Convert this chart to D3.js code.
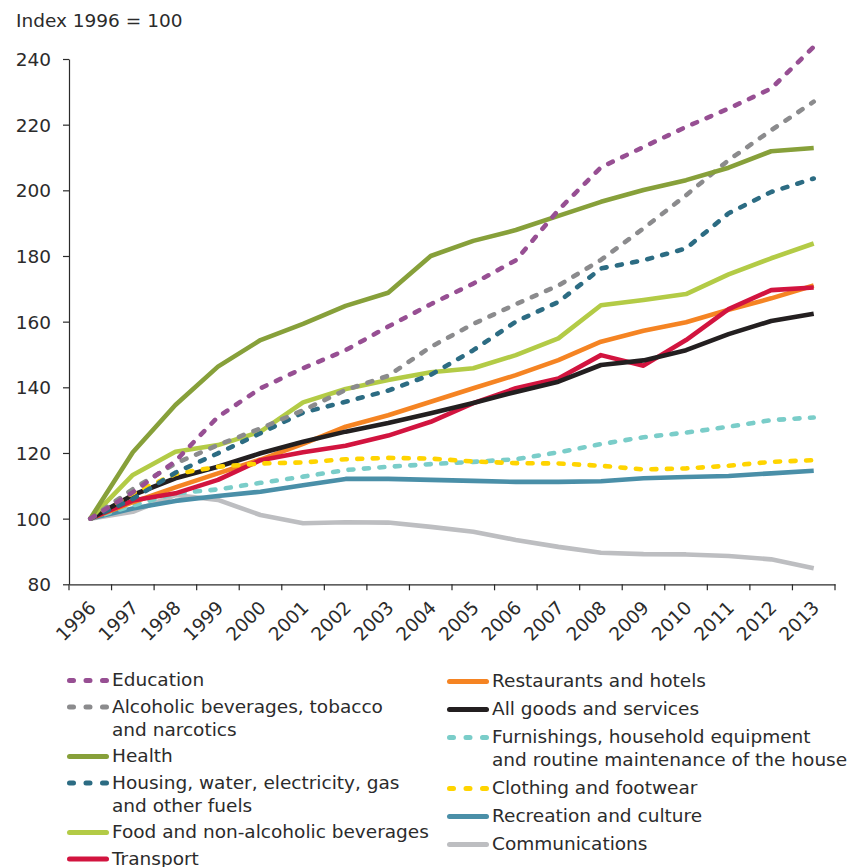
<!DOCTYPE html>
<html lang="en">
<head>
<meta charset="utf-8">
<title>Index 1996 = 100</title>
<script src="https://d3js.org/d3.v7.min.js"></script>
<style>
    body { margin: 0; background: #fff; }
    svg text { font-family: "DejaVu Sans", Verdana, sans-serif; fill: #2b2b2b; }
</style>
</head>
<body>
<div id="chart"></div>
<script>
// years on the x axis
var years = ["1996", "1997", "1998", "1999", "2000", "2001", "2002", "2003", "2004",
    "2005", "2006", "2007", "2008", "2009", "2010", "2011", "2012", "2013"];
var yTicks = [80, 100, 120, 140, 160, 180, 200, 220, 240];

// index values
var education      = [100, 108, 117.5, 131, 139.7, 145.8, 151.3, 158.5, 165.3, 171.6, 178.7, 194, 207, 213.2, 219.3, 224.9, 231, 243.7];
var alcohol        = [100, 109, 116.8, 122.4, 127.5, 133, 139.2, 143.5, 152.3, 159.3, 165.3, 171, 178.8, 188.4, 198.5, 209.2, 218.3, 227];
var health         = [100, 120.2, 134.6, 146.3, 154.4, 159.3, 164.8, 168.8, 180, 184.6, 187.9, 192.2, 196.5, 200.1, 203.1, 206.9, 211.9, 212.9];
var housing        = [100, 106, 114, 119.9, 126, 132.3, 135.6, 139, 143.8, 151.3, 160, 166, 176.2, 178.7, 182.3, 193, 199.5, 203.6];
var food           = [100, 113.3, 120.4, 122.4, 126.5, 135.4, 139.5, 142.2, 144.6, 145.8, 149.8, 154.9, 165, 166.6, 168.4, 174.4, 179.3, 183.8];
var transport      = [100, 105.5, 107.7, 111.8, 117.8, 120.2, 122.2, 125.3, 129.5, 135.2, 139.7, 142.7, 149.8, 146.6, 154.4, 163.8, 169.6, 170.4];
var restaurants    = [100, 105, 109.5, 113.8, 118, 122.8, 128, 131.5, 135.6, 139.7, 143.7, 148.3, 153.9, 157.2, 159.8, 163.6, 167.1, 171];
var allGoods       = [100, 107.2, 112.3, 115.8, 119.9, 123.4, 126.5, 129.1, 132.1, 135.2, 138.6, 141.7, 146.8, 148.2, 151.3, 156.2, 160.2, 162.4];
var furnishings    = [100, 104, 107.7, 108.9, 110.9, 112.8, 114.8, 115.8, 116.6, 117.3, 118.1, 120.2, 122.7, 124.8, 126.2, 128, 130, 130.8];
var clothing       = [100, 107.7, 113.6, 115.8, 116.8, 117.1, 118.1, 118.5, 118.3, 117.4, 116.9, 116.8, 116.1, 115, 115.3, 116.1, 117.3, 117.8];
var recreation     = [100, 103.1, 105.4, 106.9, 108.2, 110.2, 112.1, 112.1, 111.8, 111.5, 111.2, 111.2, 111.4, 112.3, 112.7, 113, 113.8, 114.6];
var communications = [100, 102.1, 107.2, 105.7, 101.1, 98.6, 98.9, 98.8, 97.5, 96, 93.5, 91.4, 89.6, 89.2, 89.1, 88.6, 87.6, 84.9];

var series = [
    { name: ["Education"], values: education, color: "#974f93", dashed: true, col: 0 },
    { name: ["Alcoholic beverages, tobacco", "and narcotics"], values: alcohol, color: "#8b8b8d", dashed: true, col: 0 },
    { name: ["Health"], values: health, color: "#87a03a", dashed: false, col: 0 },
    { name: ["Housing, water, electricity, gas", "and other fuels"], values: housing, color: "#2c6c83", dashed: true, col: 0 },
    { name: ["Food and non-alcoholic beverages"], values: food, color: "#b3cb46", dashed: false, col: 0 },
    { name: ["Transport"], values: transport, color: "#d2143f", dashed: false, col: 0 },
    { name: ["Restaurants and hotels"], values: restaurants, color: "#f58423", dashed: false, col: 1 },
    { name: ["All goods and services"], values: allGoods, color: "#231f20", dashed: false, col: 1 },
    { name: ["Furnishings, household equipment", "and routine maintenance of the house"], values: furnishings, color: "#7acdc9", dashed: true, col: 1 },
    { name: ["Clothing and footwear"], values: clothing, color: "#ffd400", dashed: true, col: 1 },
    { name: ["Recreation and culture"], values: recreation, color: "#4a8fa8", dashed: false, col: 1 },
    { name: ["Communications"], values: communications, color: "#bdbec1", dashed: false, col: 1 }
];

// order lines are painted in (back to front)
var drawOrder = ["Communications", "Recreation and culture", "Furnishings, household equipment",
    "Restaurants and hotels", "Transport", "All goods and services", "Clothing and footwear",
    "Food and non-alcoholic beverages", "Housing, water, electricity, gas",
    "Alcoholic beverages, tobacco", "Health", "Education"];

var W = 847, H = 867;
var fs = "18.5px";
var svg = d3.select("#chart").append("svg")
    .attr("width", W)
    .attr("height", H);

var x = d3.scaleBand().domain(years).range([69, 835]);
var y = d3.scaleLinear().domain([80, 240]).range([584.3, 59]);
var cx = function (yr) { return x(yr) + x.bandwidth() / 2; };

svg.append("text")
    .attr("x", 16).attr("y", 27)
    .style("font-size", fs)
    .text("Index 1996 = 100");

// y axis
var yAxis = svg.append("g")
    .attr("transform", "translate(69,0)")
    .call(d3.axisLeft(y).tickValues(yTicks).tickSize(6).tickSizeOuter(0).tickPadding(12));
yAxis.selectAll("text").style("font-size", fs).attr("dy", "0.36em");

// x axis: labels at band centres, ticks at band edges
var xAxis = svg.append("g")
    .attr("transform", "translate(0,584.3)")
    .call(d3.axisBottom(x).tickSize(0).tickSizeOuter(0));
xAxis.selectAll("text")
    .attr("x", 0).attr("y", 0).attr("dy", 0)
    .attr("transform", "translate(6.7,24.5) rotate(-45)")
    .style("text-anchor", "end")
    .style("font-size", fs);
xAxis.selectAll(".edge")
    .data(years.map(function (d) { return x(d); }).concat([x.range()[1]]))
    .enter().append("line")
    .attr("class", "edge")
    .attr("x1", function (d) { return d; }).attr("x2", function (d) { return d; })
    .attr("y1", 0).attr("y2", 6);
svg.selectAll(".domain, .tick line, .edge").attr("stroke", "#2b2b2b").attr("stroke-width", 1.2);

// lines
var line = d3.line()
    .x(function (d, i) { return cx(years[i]); })
    .y(function (d) { return y(d); });

var ordered = drawOrder.map(function (n) {
    return series.find(function (s) { return s.name[0] === n; });
});
svg.append("g").selectAll("path")
    .data(ordered)
    .enter().append("path")
    .attr("d", function (d) { return line(d.values); })
    .attr("fill", "none")
    .attr("stroke", function (d) { return d.color; })
    .attr("stroke-width", 4.6)
    .attr("stroke-linejoin", "round")
    .attr("stroke-linecap", function (d) { return d.dashed ? "round" : "butt"; })
    .attr("stroke-dasharray", function (d) { return d.dashed ? "5,10.5" : null; });

// legend
var colX = [67, 447];
var colStart = [686, 687];
var colGap = [26.5, 28];
var lineGap = 23;
var pos = [0, 0];
var legend = svg.append("g");
series.forEach(function (s) {
    var c = s.col;
    var by = colStart[c] + pos[c];
    pos[c] += colGap[c] + (s.name.length - 1) * lineGap;
    legend.append("line")
        .attr("x1", colX[c] + 2.5).attr("x2", colX[c] + 39.5)
        .attr("y1", by - 5.5).attr("y2", by - 5.5)
        .attr("stroke", s.color)
        .attr("stroke-width", 5)
        .attr("stroke-linecap", "round")
        .attr("stroke-dasharray", s.dashed ? "4,12.5" : null);
    s.name.forEach(function (t, k) {
        legend.append("text")
            .attr("x", colX[c] + 45)
            .attr("y", by + k * lineGap)
            .style("font-size", fs)
            .text(t);
    });
});
</script>
</body>
</html>
